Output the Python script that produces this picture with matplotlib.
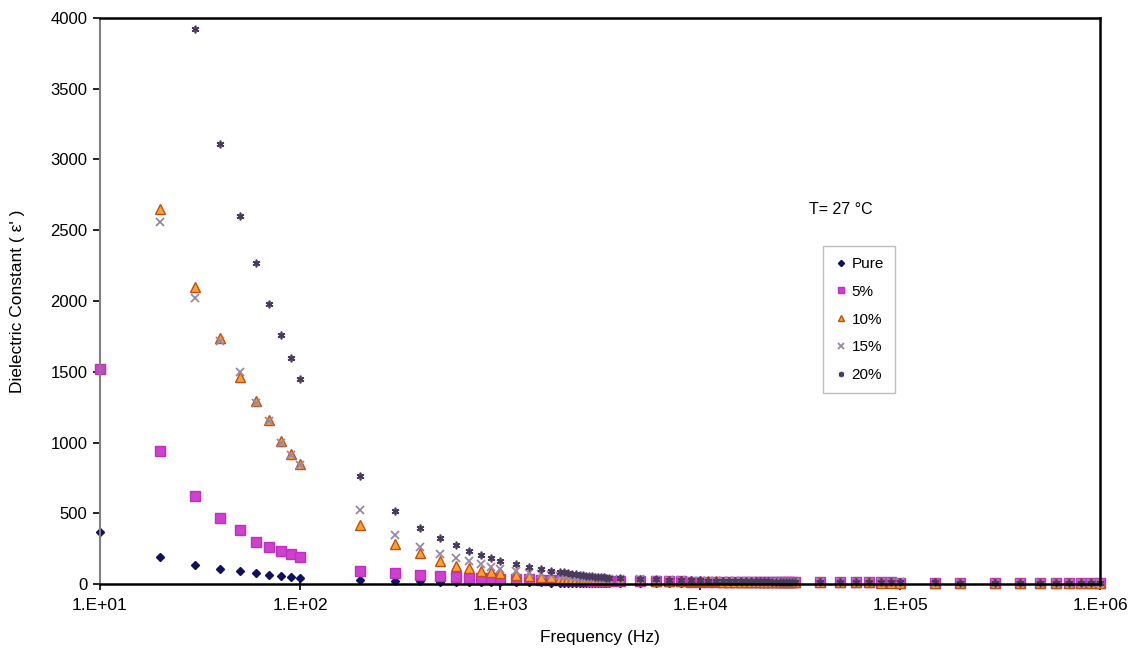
import numpy as np
import matplotlib
matplotlib.use("Agg")
import matplotlib.pyplot as plt
from matplotlib.ticker import FixedLocator, FuncFormatter, NullLocator

plt.rcParams['font.family'] = ['Liberation Sans', 'DejaVu Sans']

nan = np.nan

# frequency points (Hz)
freq = [10, 20, 30, 40, 50, 60, 70, 80, 90, 100,
        200, 300, 400, 500, 600, 700, 800, 900, 1000,
        1200, 1400, 1600, 1800,
        2000, 2100, 2200, 2300, 2400, 2500, 2600, 2700, 2800, 2900, 3000, 3100, 3200, 3300, 3400, 3500,
        4000, 5000, 6000, 7000, 8000, 9000,
        10000, 11000, 12000, 13000, 14000, 15000, 16000, 17000, 18000, 19000, 20000,
        21000, 22000, 23000, 24000, 25000, 26000, 27000, 28000, 29000, 30000,
        40000, 50000, 60000, 70000, 80000, 90000, 100000,
        150000, 200000,
        300000, 400000, 500000, 600000, 700000, 800000, 900000, 1000000]

pure = [370, 190, 135, 105, 90, 75, 62, 55, 48, 40,
        28, 22, 19, 17, 16, 15, 14, 13, 12,
        12, 11, 11, 10,
        10, 10, 10, 10, 9, 9, 9, 9, 9, 9, 9, 9, 9, 8, 8, 8,
        8, 8, 8, 8, 8, 7,
        7, 7, 7, 7, 7, 7, 7, 7, 7, 7, 7, 7, 7, 7, 7, 7, 7, 6, 6, 6, 6,
        6, 6, 6, 6, 6, 6, 6,
        6, 5,
        5, 5, 5, 5, 5, 5, 5, 5]

p5 = [1520, 940, 625, 470, 380, 300, 265, 230, 210, 190,
      95, 75, 62, 55, 50, 46, 43, 40, 38,
      35, 33, 31, 30,
      29, 28, 28, 27, 27, 26, 26, 25, 25, 24, 24, 24, 23, 23, 22, 22,
      21, 20, 19, 18, 18, 17,
      17, 16, 16, 16, 15, 15, 15, 15, 14, 14, 14, 14, 14, 13, 13, 13, 13, 13, 13, 12, 12,
      12, 12, 11, 11, 11, 11, 10,
      10, 10,
      9, 9, 9, 9, 8, 8, 8, 8]

p10 = [nan, 2650, 2100, 1740, 1460, 1290, 1160, 1010, 920, 850,
       420, 280, 220, 160, 130, 110, 95, 85, 75,
       65, 58, 52, 48,
       45, 43, 41, 40, 38, 37, 36, 35, 34, 33, 32, 31, 31, 30, 29, 28,
       27, 25, 23, 22, 21, 20,
       19, 18, 18, 17, 17, 16, 16, 16, 15, 15, 15, 14, 14, 14, 14, 13, 13, 13, 13, 13, 12,
       12, 11, 11, 11, 10, 10, 10,
       9, 9,
       8, 8, 8, 7, 7, 7, 7, 6]

p15 = [nan, 2560, 2020, 1720, 1500, 1280, 1150, 1000, 910, 840,
       520, 345, 260, 215, 185, 160, 140, 120, 105,
       90, 80, 72, 65,
       60, 57, 55, 53, 51, 49, 47, 46, 44, 43, 42, 41, 40, 39, 38, 37,
       35, 32, 29, 27, 25, 24,
       23, 22, 21, 20, 20, 19, 19, 18, 18, 17, 17, 17, 16, 16, 16, 15, 15, 15, 15, 14, 14,
       13, 13, 12, 12, 12, 11, 11,
       10, 10,
       9, 9, 9, 8, 8, 8, 8, 7]

p20 = [nan, nan, 3920, 3110, 2600, 2270, 1980, 1760, 1600, 1450,
       760, 515, 395, 325, 275, 235, 205, 185, 165,
       140, 120, 105, 95,
       88, 82, 77, 72, 68, 65, 62, 59, 57, 55, 53, 51, 49, 48, 46, 45,
       42, 37, 33, 30, 28, 26,
       25, 24, 23, 22, 21, 21, 20, 20, 19, 19, 18, 18, 18, 17, 17, 17, 16, 16, 16, 16, 15,
       14, 14, 13, 13, 13, 12, 12,
       11, 10,
       10, 9, 9, 9, 9, 8, 8, 8]

labels = ['Pure', '5%', '10%', '15%', '20%']
series = [pure, p5, p10, p15, p20]
styles = [
    dict(marker='D', ms=4.5, mfc='#101060', mec='#101060'),
    dict(marker='s', ms=7, mfc='#d040d0', mec='#c030c0'),
    dict(marker='^', ms=7, mfc='#ffa030', mec='#c05010', mew=1.0),
    dict(marker='x', ms=5.5, mfc='none', mec='#9888a8', mew=1.3),
    dict(marker=(6, 2, 0), ms=5.5, mfc='none', mec='#4a3a60', mew=1.2),
]

fig = plt.figure(figsize=(11.31, 6.54), dpi=100)
ax = fig.add_axes([0.0884, 0.107, 0.8842, 0.8655])

for vals, lab, st in zip(series, labels, styles):
    ax.plot(freq, vals, linestyle='none', label=lab, clip_on=False, **st)

ax.set_xscale('log')
ax.set_xlim(10, 1e6)
ax.set_ylim(0, 4000)
ax.xaxis.set_major_locator(FixedLocator([1e1, 1e2, 1e3, 1e4, 1e5, 1e6]))
ax.xaxis.set_minor_locator(NullLocator())
ax.xaxis.set_major_formatter(FuncFormatter(lambda v, p: "1.E+%02d" % int(round(np.log10(v)))))
ax.set_yticks(np.arange(0, 4001, 500))

ax.tick_params(axis='x', direction='inout', length=8, width=1.2, labelsize=12.5, pad=6)
ax.tick_params(axis='y', direction='out', length=5, width=1.2, labelsize=12, pad=4)

for side in ['top', 'right', 'bottom']:
    ax.spines[side].set_color('black')
    ax.spines[side].set_linewidth(1.8)
ax.spines['left'].set_color('#808080')
ax.spines['left'].set_linewidth(1.5)

ax.set_xlabel('Frequency (Hz)', fontsize=12.5, labelpad=12)
ax.set_ylabel("Dielectric Constant ( ε' )", fontsize=12.5, labelpad=18)

ax.text(0.709, 0.662, 'T= 27 °C', transform=ax.transAxes, fontsize=11.5, ha='left', va='center')

leg = ax.legend(loc='upper left', bbox_to_anchor=(0.715, 0.61), fontsize=11,
                frameon=True, fancybox=False, edgecolor='#b0b0b0',
                labelspacing=0.9, handletextpad=0.2, handlelength=1.0,
                borderpad=0.7, markerscale=0.7)
leg.get_frame().set_linewidth(1.0)

fig.savefig('out.png', dpi=100)
